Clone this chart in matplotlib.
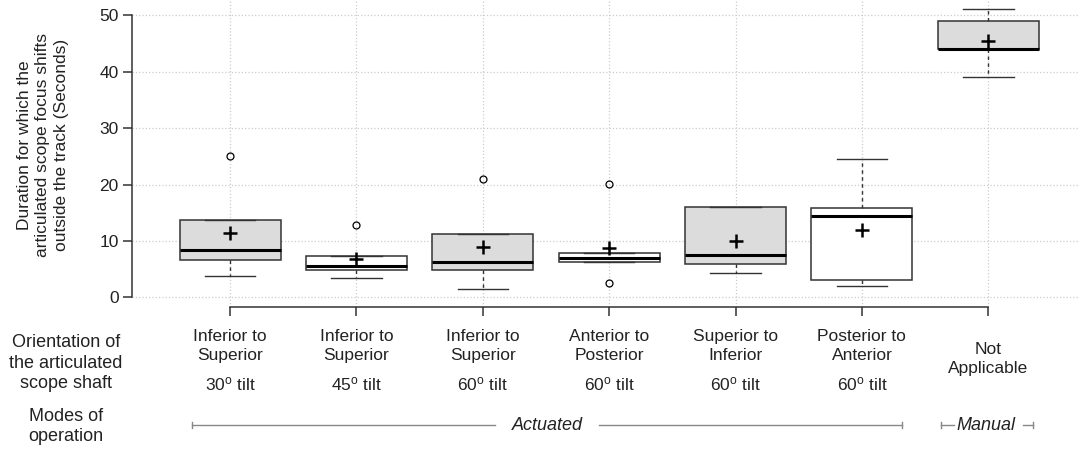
import matplotlib
matplotlib.use("Agg")
from matplotlib import pyplot as plt
from matplotlib import transforms

# box statistics (seconds)
positions = [1, 2, 3, 4, 5, 6, 7]
q1 = [6.6, 4.8, 4.9, 6.2, 5.9, 3.0, 44.0]
medians = [8.4, 5.6, 6.3, 6.9, 7.5, 14.5, 44.1]
q3 = [13.8, 7.4, 11.3, 7.9, 16.1, 15.8, 49.1]
whis_low = [3.7, 3.4, 1.4, 6.2, 4.4, 2.0, 39.1]
whis_high = [13.8, 7.4, 11.3, 7.9, 16.1, 24.5, 51.1]
means = [11.4, 6.8, 8.95, 8.8, 10.0, 11.9, 45.4]
outliers = [[25.1], [12.9], [21.0], [20.1, 2.6], [], [], []]

orientation = ["Inferior to\nSuperior", "Inferior to\nSuperior", "Inferior to\nSuperior",
               "Anterior to\nPosterior", "Superior to\nInferior", "Posterior to\nAnterior",
               "Not\nApplicable"]
tilts = ["30", "45", "60", "60", "60", "60", None]
y_ticks = [0, 10, 20, 30, 40, 50]

plt.rcParams['font.family'] = ['Liberation Sans', 'DejaVu Sans']
plt.rcParams['mathtext.fontset'] = 'custom'
plt.rcParams['mathtext.rm'] = 'Liberation Sans'
plt.rcParams['mathtext.it'] = 'Liberation Sans:italic'
txt_col = '#222222'
edge = '#333333'

fig = plt.figure(figsize=(10.78, 4.53), dpi=100)
ax = fig.add_axes([132 / 1078, 1 - 307 / 453, 1 - 132 / 1078, 307 / 453])

stats = []
for i in range(len(positions)):
    stats.append({'med': medians[i], 'q1': q1[i], 'q3': q3[i],
                  'whislo': whis_low[i], 'whishi': whis_high[i],
                  'mean': means[i], 'fliers': outliers[i]})

bp = ax.bxp(stats, positions=positions, widths=0.8, capwidths=0.4,
            patch_artist=True, showmeans=True, manage_ticks=False,
            boxprops=dict(edgecolor=edge, linewidth=1.1),
            medianprops=dict(color='black', linewidth=2.2),
            whiskerprops=dict(color=edge, linewidth=1.0, linestyle=(0, (2.5, 2.5))),
            capprops=dict(color=edge, linewidth=1.0),
            meanprops=dict(marker='+', markersize=10.5, markeredgewidth=1.8,
                           markeredgecolor='black', markerfacecolor='black'),
            flierprops=dict(marker='o', markersize=5, markerfacecolor='none',
                            markeredgecolor='black', markeredgewidth=0.9))
for i, b in enumerate(bp['boxes']):
    b.set_facecolor('#dcdcdc' if i % 2 == 0 else 'white')
    b.set_zorder(2)

ax.set_xlim(0.224, 7.71)
ax.set_ylim(-1.72, 52.75)
ax.set_xticks(positions)
ax.set_xticklabels([])
ax.set_yticks(y_ticks)
ax.set_yticklabels([str(v) for v in y_ticks], fontsize=12.5, color=txt_col)
ax.grid(True, linestyle=':', color='#cccccc', linewidth=0.9)
ax.set_axisbelow(True)
for s in ['top', 'right']:
    ax.spines[s].set_visible(False)
ax.spines['left'].set_bounds(0, 50)
ax.spines['bottom'].set_bounds(1, 7)
for s in ['left', 'bottom']:
    ax.spines[s].set_color(edge)
    ax.spines[s].set_linewidth(1.1)
ax.tick_params(axis='both', direction='out', length=6.5, width=1.1, color=edge)
ax.tick_params(axis='y', pad=3)

def fy(px):
    return 1 - px / 453

fig.text(43 / 1078, fy(145),
         "Duration for which the\narticulated scope focus shifts\noutside the track (Seconds)",
         rotation=90, ha='center', va='center', fontsize=12.5, color=txt_col, linespacing=1.3)

# labels under the axis: data x, figure y
trans = transforms.blended_transform_factory(ax.transData, fig.transFigure)

for i, p in enumerate(positions):
    if tilts[i] is None:
        ax.text(p, fy(359), orientation[i], transform=trans, ha='center', va='center',
                fontsize=12.5, color=txt_col, linespacing=1.4)
    else:
        ax.text(p, fy(346), orientation[i], transform=trans, ha='center', va='center',
                fontsize=12.5, color=txt_col, linespacing=1.3)
        ax.text(p, fy(384), tilts[i] + "$^{\\mathrm{o}}$ tilt", transform=trans,
                ha='center', va='center', fontsize=12.5, color=txt_col)

fig.text(66 / 1078, fy(363), "Orientation of\nthe articulated\nscope shaft",
         ha='center', va='center', fontsize=13, color=txt_col, linespacing=1.3)
fig.text(66 / 1078, fy(426.5), "Modes of\noperation",
         ha='center', va='center', fontsize=13, color=txt_col, linespacing=1.3)

# mode spans
line_col = '#888888'
ym = fy(425)
cap = 0.007
act_lo, act_hi = 0.70, 6.32
act_mid = (act_lo + act_hi) / 2
ax.plot([act_lo, act_mid - 0.41], [ym, ym], transform=trans,
        color=line_col, lw=1, clip_on=False)
ax.plot([act_mid + 0.41, act_hi], [ym, ym], transform=trans,
        color=line_col, lw=1, clip_on=False)
for xe in [act_lo, act_hi]:
    ax.plot([xe, xe], [ym - cap, ym + cap], transform=trans, color=line_col, lw=1, clip_on=False)
ax.text(act_mid, ym, "Actuated", transform=trans, ha='center', va='center',
        fontsize=13, style='italic', color=txt_col)

man_lo, man_hi = 6.625, 7.355
ax.plot([man_lo, man_lo + 0.1], [ym, ym], transform=trans, color=line_col, lw=1, clip_on=False)
ax.plot([man_hi - 0.08, man_hi], [ym, ym], transform=trans, color=line_col, lw=1, clip_on=False)
ax.plot([man_lo, man_lo], [ym - cap, ym + cap], transform=trans, color=line_col, lw=1, clip_on=False)
ax.plot([man_hi, man_hi], [ym - cap, ym + cap], transform=trans, color=line_col, lw=1, clip_on=False)
ax.text((man_lo + man_hi) / 2 - 0.01, ym, "Manual", transform=trans, ha='center', va='center',
        fontsize=13, style='italic', color=txt_col)

fig.savefig('out.png', dpi=100)
